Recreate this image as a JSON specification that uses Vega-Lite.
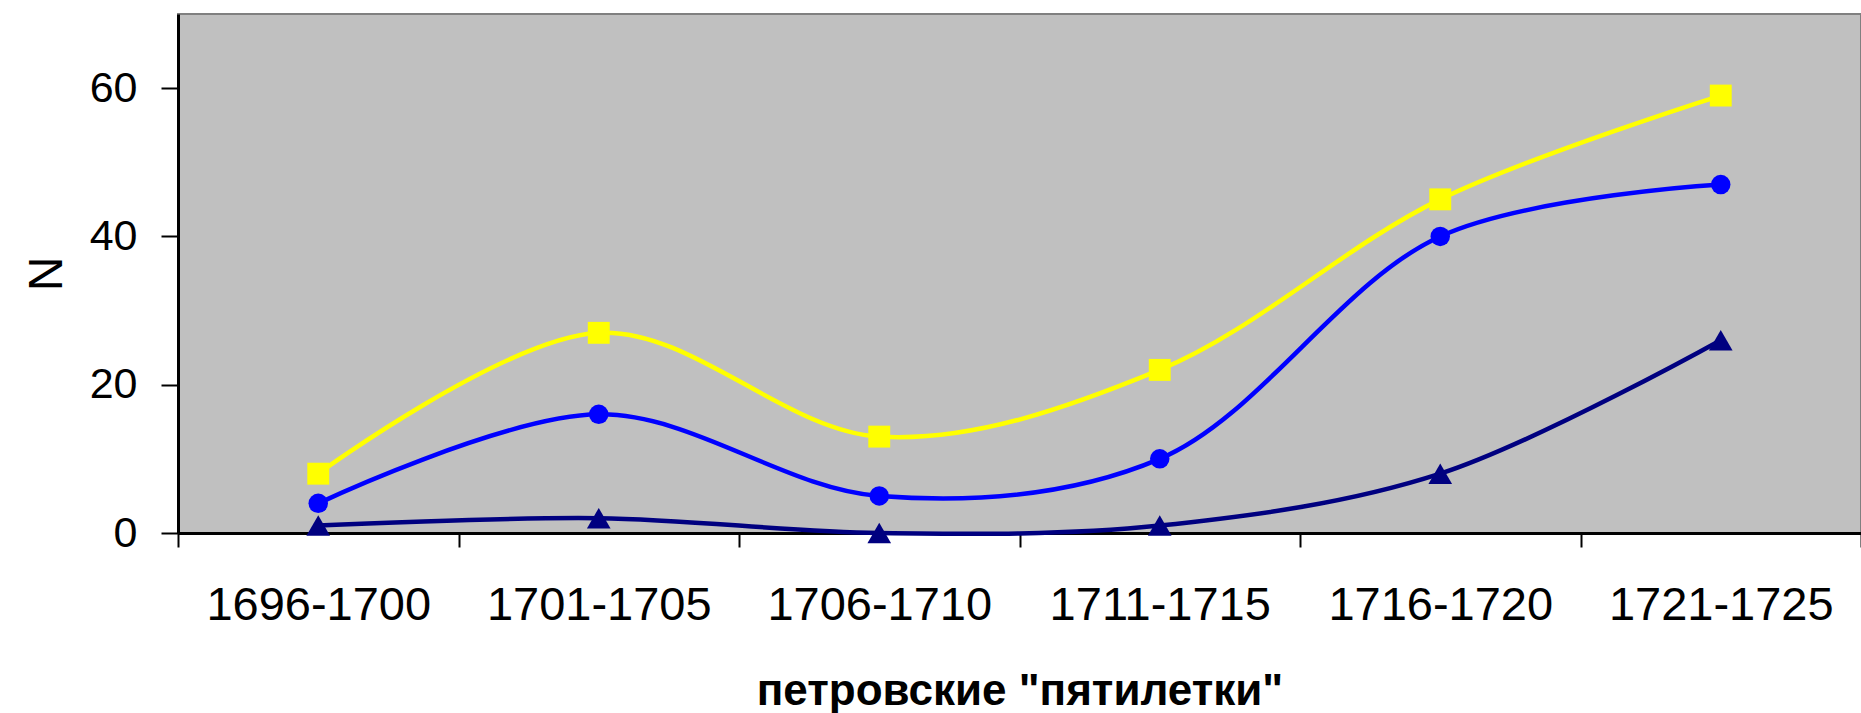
{
  "$schema": "https://vega.github.io/schema/vega-lite/v6.json",
  "width": 1683,
  "height": 519,
  "autosize": {"type": "none"},
  "padding": {"left": 178, "top": 14, "right": 0, "bottom": 180},
  "background": "#ffffff",
  "config": {
    "view": {"fill": "#c0c0c0", "stroke": "#808080", "strokeWidth": 2},
    "font": "Liberation Sans"
  },
  "data": {
    "values": [
      {"period": "1696-1700", "series": "A", "N": 8},
      {"period": "1701-1705", "series": "A", "N": 27},
      {"period": "1706-1710", "series": "A", "N": 13},
      {"period": "1711-1715", "series": "A", "N": 22},
      {"period": "1716-1720", "series": "A", "N": 45},
      {"period": "1721-1725", "series": "A", "N": 59},
      {"period": "1696-1700", "series": "B", "N": 4},
      {"period": "1701-1705", "series": "B", "N": 16},
      {"period": "1706-1710", "series": "B", "N": 5},
      {"period": "1711-1715", "series": "B", "N": 10},
      {"period": "1716-1720", "series": "B", "N": 40},
      {"period": "1721-1725", "series": "B", "N": 47},
      {"period": "1696-1700", "series": "C", "N": 1},
      {"period": "1701-1705", "series": "C", "N": 2},
      {"period": "1706-1710", "series": "C", "N": 0},
      {"period": "1711-1715", "series": "C", "N": 1},
      {"period": "1716-1720", "series": "C", "N": 8},
      {"period": "1721-1725", "series": "C", "N": 26}
    ]
  },
  "encoding": {
    "x": {
      "field": "period",
      "type": "nominal",
      "sort": null,
      "scale": {"type": "band", "paddingInner": 0, "paddingOuter": 0},
      "axis": {
        "title": "петровские \"пятилетки\"",
        "titleFont": "Liberation Sans",
        "titleFontSize": 44,
        "titleFontWeight": "bold",
        "titleColor": "#000000",
        "titlePadding": 41,
        "labelAngle": 0,
        "labelFontSize": 47,
        "labelLimit": 0,
        "labelColor": "#000000",
        "labelPadding": 35,
        "labelFont": "Liberation Sans",
        "domainColor": "#000000",
        "domainWidth": 3,
        "tickColor": "#000000",
        "tickWidth": 2,
        "tickSize": 14,
        "tickBand": "extent",
        "grid": false
      }
    },
    "y": {
      "field": "N",
      "type": "quantitative",
      "scale": {"domain": [0, 70], "nice": false},
      "axis": {
        "title": "N",
        "titleFontSize": 48,
        "titleFontWeight": "normal",
        "titleColor": "#000000",
        "titlePadding": 18,
        "values": [0, 20, 40, 60],
        "labelFontSize": 43,
        "labelColor": "#000000",
        "labelPadding": 24,
        "domainColor": "#000000",
        "domainWidth": 3,
        "tickColor": "#000000",
        "tickWidth": 2,
        "tickSize": 17,
        "grid": false
      }
    },
    "color": {
      "field": "series",
      "type": "nominal",
      "scale": {"domain": ["A", "B", "C"], "range": ["#ffff00", "#0000ff", "#000080"]},
      "legend": null
    }
  },
  "layer": [
    {
      "mark": {"type": "line", "interpolate": "catmull-rom", "strokeWidth": 4.5},
      "encoding": {"detail": {"field": "series"}}
    },
    {
      "transform": [{"filter": "datum.series === 'A'"}],
      "mark": {"type": "point", "filled": true, "opacity": 1, "shape": "square", "size": 480}
    },
    {
      "transform": [{"filter": "datum.series === 'B'"}],
      "mark": {"type": "point", "filled": true, "opacity": 1, "shape": "circle", "size": 380}
    },
    {
      "transform": [{"filter": "datum.series === 'C'"}],
      "mark": {"type": "point", "filled": true, "opacity": 1, "shape": "triangle-up", "size": 560}
    }
  ]
}
